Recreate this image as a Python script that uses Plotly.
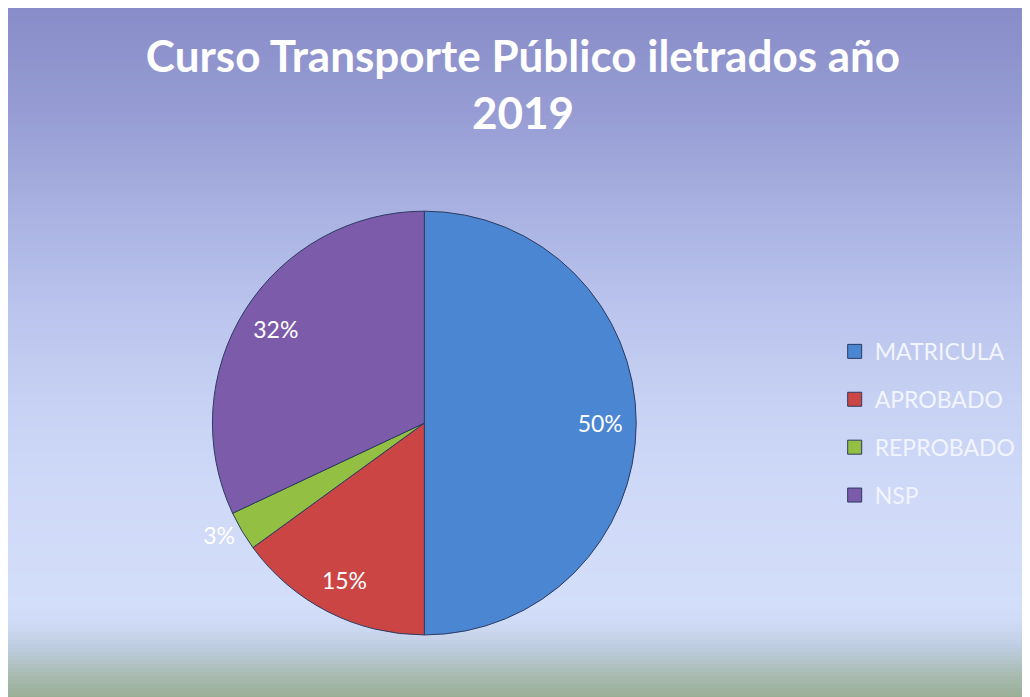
import plotly.graph_objects as go

categorias = ["MATRICULA", "APROBADO", "REPROBADO", "NSP"]
porcentajes = [50, 15, 3, 32]
colores = ["#4a86d2", "#cc4545", "#93c042", "#7c5caa"]
posicion_texto = ["inside", "inside", "outside", "inside"]

W, H = 1030, 697

# background gradient stops (pixel row from top, rgb)
stops = [
    (0, (136, 140, 200)), (100, (150, 156, 211)), (200, (168, 177, 225)),
    (300, (186, 196, 237)), (400, (200, 210, 244)), (500, (208, 218, 248)),
    (600, (211, 222, 250)), (615, (207, 219, 245)), (640, (190, 204, 224)),
    (665, (170, 188, 180)), (697, (148, 170, 140)),
]


def color_at(row):
    for (r0, c0), (r1, c1) in zip(stops[:-1], stops[1:]):
        if r0 <= row <= r1:
            t = (row - r0) / (r1 - r0)
            return "rgb(%d,%d,%d)" % tuple(round(a + (b - a) * t) for a, b in zip(c0, c1))
    return "rgb(%d,%d,%d)" % stops[-1][1]


bands = []
step = 4
for row in range(0, H, step):
    bands.append(dict(
        type="rect", xref="paper", yref="paper", layer="below",
        x0=0, x1=1, y0=1 - (row + step + 1) / H, y1=1 - row / H,
        fillcolor=color_at(row + step / 2), line_width=0,
    ))

dominio = dict(x=[0.1742, 0.6342], y=[0.1005, 0.7085])
fuente = dict(family="Lato", size=23, color="white")
invisible = dict(family="Lato", size=23, color="rgba(0,0,0,0)")

fig = go.Figure()
# the pie itself (text kept invisible so both pies scale the same way)
fig.add_trace(go.Pie(
    labels=categorias,
    values=porcentajes,
    sort=False,
    direction="clockwise",
    rotation=0,
    marker=dict(colors=colores, line=dict(color="#2c3b63", width=1)),
    texttemplate="%{value}%",
    textposition=posicion_texto,
    insidetextorientation="horizontal",
    textfont=invisible,
    outsidetextfont=invisible,
    domain=dominio,
    showlegend=False,
    hoverinfo="label+percent",
))
# transparent ring on top that places the labels toward the rim
fig.add_trace(go.Pie(
    labels=categorias,
    values=porcentajes,
    sort=False,
    direction="clockwise",
    rotation=0,
    hole=0.66,
    marker=dict(colors=["rgba(0,0,0,0)"] * 4, line=dict(width=0)),
    texttemplate="%{value}%",
    textposition=posicion_texto,
    insidetextorientation="horizontal",
    textfont=fuente,
    outsidetextfont=fuente,
    domain=dominio,
    showlegend=False,
    hoverinfo="skip",
))

# legend entries with room between them
for cat, col in zip(categorias, colores):
    fig.add_trace(go.Scatter(
        x=[None], y=[None], mode="markers", name=cat,
        legendgroup=cat,
        marker=dict(symbol="square", size=14, color=col,
                    line=dict(color="#2c3b63", width=1)),
    ))

fig.update_layout(
    width=W, height=H,
    margin=dict(l=0, r=0, t=0, b=0),
    paper_bgcolor="#d3ddfa",
    plot_bgcolor="rgba(0,0,0,0)",
    shapes=bands,
    title=dict(
        text="Curso Transporte Público iletrados año<br>2019",
        x=0.5, xanchor="center", y=0.908, yanchor="top",
        font=dict(family="Lato", size=44, color="white", weight="bold"),
    ),
    legend=dict(
        x=0.8026, xanchor="left", y=0.404, yanchor="middle",
        font=dict(family="Lato", size=23, color="#f2f5ff"),
        bgcolor="rgba(0,0,0,0)", tracegroupgap=15, itemclick=False,
    ),
    xaxis=dict(visible=False),
    yaxis=dict(visible=False),
)

fig.write_html("out.html")
